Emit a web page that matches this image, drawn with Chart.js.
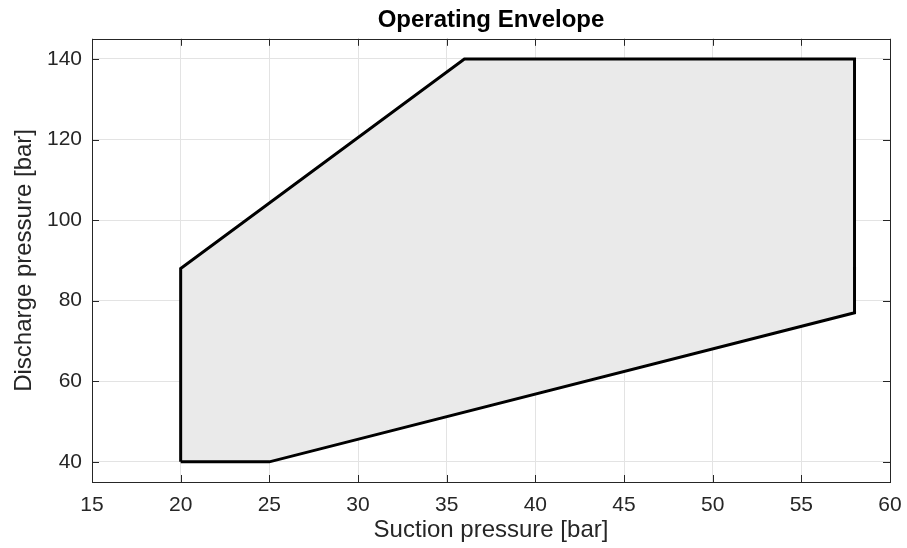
<!DOCTYPE html>
<html>

<head>
    <title>Operating Envelope</title>
    <meta name="viewport" content="width=device-width, initial-scale=1.0">
    <style>
        html, body {
            margin: 0;
            padding: 0;
            background: #ffffff;
        }
    </style>
</head>

<body>
    <canvas id="envelopeChart" width="907" height="548"></canvas>

    <script src="https://cdn.jsdelivr.net/npm/chart.js@4/dist/chart.umd.min.js"></script>

    <script>
        // Envelope corners, walked round and closed back on the first one
        const suctionPressure = [20, 25, 58, 58, 36, 20, 20];
        const dischargePressure = [40, 40, 77, 140, 140, 88, 40];

        const xTicks = [15, 20, 25, 30, 35, 40, 45, 50, 55, 60];
        const yTicks = [40, 60, 80, 100, 120, 140];

        const axisColor = '#262626';
        const gridColor = '#e3e3e3';
        const fontFamily = "'Liberation Sans', Arial, Helvetica, sans-serif";

        // Box round the plot area plus inward tick marks on all four sides
        const boxPlugin = {
            id: 'boxPlugin',
            afterDraw(chart) {
                const ctx = chart.ctx;
                const area = chart.chartArea;
                const xs = chart.scales.x;
                const ys = chart.scales.y;
                const len = 7;
                ctx.save();
                ctx.strokeStyle = axisColor;
                ctx.lineWidth = 1;
                ctx.beginPath();
                xs.ticks.forEach(t => {
                    const px = Math.round(xs.getPixelForValue(t.value)) + 0.5;
                    ctx.moveTo(px, area.bottom);
                    ctx.lineTo(px, area.bottom - len);
                    ctx.moveTo(px, area.top);
                    ctx.lineTo(px, area.top + len);
                });
                ys.ticks.forEach(t => {
                    const py = Math.round(ys.getPixelForValue(t.value)) + 0.5;
                    ctx.moveTo(area.left, py);
                    ctx.lineTo(area.left + len, py);
                    ctx.moveTo(area.right, py);
                    ctx.lineTo(area.right - len, py);
                });
                ctx.stroke();
                ctx.strokeRect(Math.round(area.left) + 0.5, Math.round(area.top) + 0.5,
                    Math.round(area.right - area.left), Math.round(area.bottom - area.top));
                ctx.restore();
            }
        };

        const points = suctionPressure.map((s, i) => ({ x: s, y: dischargePressure[i] }));

        const ctx = document.getElementById('envelopeChart').getContext('2d');
        new Chart(ctx, {
            type: 'line',
            data: {
                datasets: [{
                    label: 'Envelope',
                    data: points,
                    borderColor: '#000000',
                    backgroundColor: '#eaeaea',
                    borderWidth: 3,
                    fill: 'shape',
                    pointRadius: 0,
                    tension: 0,
                    borderJoinStyle: 'miter'
                }]
            },
            options: {
                responsive: false,
                animation: false,
                devicePixelRatio: 1,
                layout: {
                    padding: { left: 0, right: 17, top: 0, bottom: 0 }
                },
                plugins: {
                    legend: { display: false },
                    tooltip: { enabled: false },
                    title: {
                        display: true,
                        fullSize: false,
                        text: 'Operating Envelope',
                        color: '#000000',
                        font: { family: fontFamily, size: 24, weight: 'bold' },
                        padding: { top: 6, bottom: 4 }
                    }
                },
                scales: {
                    x: {
                        type: 'linear',
                        min: 15,
                        max: 60,
                        afterBuildTicks: scale => {
                            scale.ticks = xTicks.map(v => ({ value: v }));
                        },
                        afterFit: scale => {
                            scale.height = 66;
                            // the end labels may hang past the plot box
                            scale.paddingLeft = 0;
                            scale.paddingRight = 0;
                        },
                        grid: { color: gridColor, drawTicks: false },
                        border: { display: false },
                        ticks: {
                            color: axisColor,
                            padding: 11,
                            maxRotation: 0,
                            font: { family: fontFamily, size: 21 }
                        },
                        title: {
                            display: true,
                            text: 'Suction pressure [bar]',
                            color: axisColor,
                            padding: { top: 0, bottom: 3 },
                            font: { family: fontFamily, size: 24 }
                        }
                    },
                    y: {
                        type: 'linear',
                        min: 35,
                        max: 145,
                        afterBuildTicks: scale => {
                            scale.ticks = yTicks.map(v => ({ value: v }));
                        },
                        afterFit: scale => {
                            scale.width = 92;
                        },
                        grid: { color: gridColor, drawTicks: false },
                        border: { display: false },
                        ticks: {
                            color: axisColor,
                            padding: 10,
                            font: { family: fontFamily, size: 21 }
                        },
                        title: {
                            display: true,
                            text: 'Discharge pressure [bar]',
                            color: axisColor,
                            padding: { top: 10, bottom: 0 },
                            font: { family: fontFamily, size: 24 }
                        }
                    }
                }
            },
            plugins: [boxPlugin]
        });
    </script>
</body>

</html>
